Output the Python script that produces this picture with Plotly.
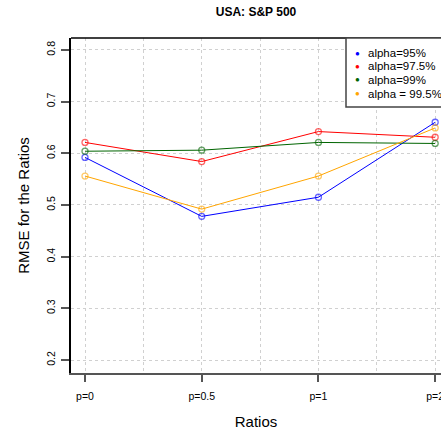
import plotly.graph_objects as go

ratios = ["p=0", "p=0.5", "p=1", "p=2"]
x_pos = [0, 1, 2, 3]
series_names = ["alpha=95%", "alpha=97.5%", "alpha=99%", "alpha = 99.5%"]
alpha95 = [0.592, 0.478, 0.515, 0.660]
alpha975 = [0.621, 0.584, 0.642, 0.631]
alpha99 = [0.604, 0.606, 0.621, 0.619]
alpha995 = [0.556, 0.492, 0.556, 0.649]
colors = ["blue", "red", "darkgreen", "orange"]
y_ticks = [0.2, 0.3, 0.4, 0.5, 0.6, 0.7, 0.8]

W, H = 441, 434
L, R, T, B = 71, 0, 38, 61
PW, PH = W - L - R, H - T - B

def px_x(px):
    return (px - L) / PW

def px_y(py):
    return 1 - (py - T) / PH

fig = go.Figure()
for name, vals, col in zip(series_names, [alpha95, alpha975, alpha99, alpha995], colors):
    fig.add_trace(go.Scatter(
        x=x_pos, y=vals, mode="lines+markers", name=name, showlegend=False,
        line=dict(color=col, width=1),
        marker=dict(symbol="circle-open", size=6, color=col, opacity=0.6, line=dict(width=1.3)),
    ))

grid = dict(showgrid=True, gridcolor="#d0d0d0", griddash="dot", gridwidth=1)

fig.update_layout(
    width=W, height=H,
    margin=dict(l=L, r=R, t=T, b=B, autoexpand=False),
    paper_bgcolor="white", plot_bgcolor="white",
    font=dict(family="Liberation Sans, Arial, sans-serif", color="black"),
    title=dict(text="<b>USA: S&P 500</b>", x=(L + W) / 2 / W, xanchor="center",
               y=1 - 12 / H, yanchor="middle", font=dict(size=12)),
    showlegend=False,
)
fig.update_xaxes(
    range=[-0.12, 3.05], tickvals=x_pos, ticktext=ratios,
    ticks="outside", ticklen=7, tickcolor="#555555", tickwidth=2,
    showline=True, linecolor="#555555", linewidth=2,
    tickfont=dict(size=10.5), ticklabelstandoff=5, ticklabeloverflow="allow",
    title=dict(text="Ratios", font=dict(size=15), standoff=16),
    zeroline=False,
    minor=dict(tickvals=[0.5, 1.5, 2.5], showgrid=True, gridcolor="#d0d0d0", griddash="dot", ticks=""),
    **grid,
)
fig.update_yaxes(
    range=[0.175, 0.823], tickvals=y_ticks, tickformat=".1f",
    ticks="outside", ticklen=8, tickcolor="#555555", tickwidth=2,
    showline=True, linecolor="black", linewidth=1.5, mirror=False,
    tickangle=-90, tickfont=dict(size=10.5), ticklabelstandoff=2,
    title=dict(text="RMSE for the Ratios", font=dict(size=15), standoff=12),
    zeroline=False,
    **grid,
)
fig.add_shape(type="line", xref="paper", yref="paper", x0=0, x1=1, y0=1, y1=1,
              line=dict(color="black", width=1.5))

# legend box (R-style)
fig.add_shape(type="rect", xref="paper", yref="paper",
              x0=px_x(346), x1=px_x(449), y0=px_y(107), y1=px_y(38),
              line=dict(color="#444444", width=1.5), fillcolor="white", layer="above")
legend_y = [53, 66, 80, 94]
for name, col, ly in zip(series_names, colors, legend_y):
    fig.add_annotation(xref="paper", yref="paper", x=px_x(357), y=px_y(ly),
                       text="●", showarrow=False, xanchor="center", yanchor="middle",
                       font=dict(size=8, color=col))
    fig.add_annotation(xref="paper", yref="paper", x=px_x(366), y=px_y(ly),
                       text=name, showarrow=False, xanchor="left", yanchor="middle",
                       font=dict(size=11.5, color="black"))

fig.write_html("out.html")
